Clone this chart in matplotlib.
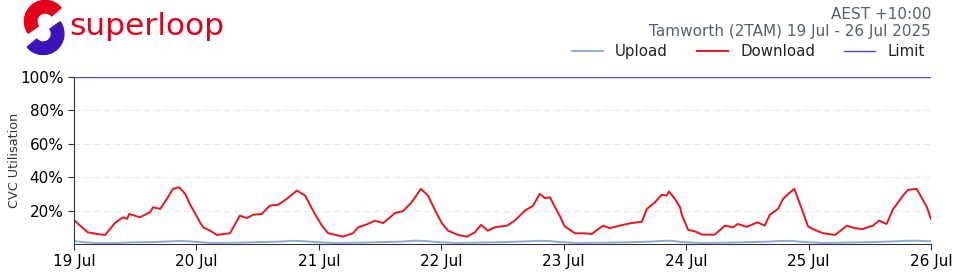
import matplotlib.pyplot as plt
import matplotlib.dates as mdates
from matplotlib.patches import Wedge
from matplotlib.ticker import FuncFormatter
import pandas as pd

# hours since 19 Jul 00:00 and CVC utilisation (%)
download_hours = [0, 1.2, 2.7, 4.5, 6.1, 8, 9.6, 10.4, 10.8, 12.9, 14.9, 15.5, 16.9, 18.2, 19.4, 20.6, 21.8, 22.7, 24.7,
                  25.3, 26.7, 28, 30.6, 32.5, 33.9, 35.1, 36.8, 38.4, 40, 41.7, 43.7, 45.3, 47.2, 48.6,
                  49.8, 51.2, 52.7, 54.7, 55.7, 57.6, 59, 60.6, 62.9, 64.5, 66.2, 68, 69.4, 70.8, 72.1, 73.3,
                  75.3, 77, 78.6, 79.8, 81.1, 82.5, 84.9, 86.4, 88.4, 90, 91.3, 92.3, 93.3, 94.3, 95.2, 96.2,
                  98.2, 100.2, 101.5, 103.7, 105, 107, 109, 111.3, 112.3, 113.9, 115.2, 116.2, 116.6, 117.8, 118.8, 119.2,
                  120.4, 121.7, 123.1, 125.6, 127.6, 129.2, 130.1, 131.9, 134, 135.4, 136.4, 138, 139, 140, 141.2, 142.3,
                  143.9, 144.8, 146.8, 149.2, 151.5, 153.1, 154.6, 156.6, 157.8, 159.3, 160.5, 162.5, 163.5, 165.2, 167.2, 168]
download = [14.3, 11, 7, 6, 5.4, 12.5, 16, 15, 18, 16, 19, 22, 21, 27, 33, 34, 30, 24, 13,
            10, 8, 5.4, 6.5, 17, 15.5, 17.5, 18, 23, 23.5, 27, 32, 29, 18, 11,
            6.5, 5.5, 4.4, 6.5, 10, 12, 14, 12.5, 18.5, 19.7, 25, 33, 29, 20, 12.5, 8,
            5.4, 4.4, 7, 11.5, 8, 10, 11, 14, 20, 23, 30, 27.5, 28, 22, 17, 10.5,
            6.4, 6.4, 6, 11, 9.5, 11, 12.4, 13.3, 21, 25, 29.5, 29, 31.5, 27, 22, 17,
            8.4, 7.6, 5.6, 5.6, 11, 10, 12, 10.3, 13, 11, 17.5, 21, 27, 30, 33, 24,
            10.5, 9, 6.5, 5.4, 11, 9.4, 9, 11, 14, 12, 20.5, 29, 32.4, 33, 22, 15]

upload_hours = [0, 1.5, 4, 8, 12, 16, 19, 21, 23,
                27, 32, 36, 40, 43, 45, 47,
                51, 56, 60, 64, 67, 69, 71,
                75, 80, 84, 88, 91, 93, 95,
                99, 104, 108, 112, 115, 117, 119,
                123, 128, 132, 136, 139, 141, 143,
                147, 152, 156, 160, 163, 165, 168]
upload = [1.8, 1.2, 0.6, 0.6, 1.0, 1.2, 1.6, 1.8, 1.5,
          0.6, 0.8, 1.1, 1.4, 1.9, 1.7, 1.2,
          0.6, 0.8, 1.1, 1.4, 2.0, 1.8, 1.2,
          0.6, 0.9, 1.1, 1.5, 1.9, 1.8, 1.2,
          0.6, 0.8, 1.0, 1.3, 1.8, 2.0, 1.2,
          0.6, 0.8, 1.1, 1.4, 1.9, 1.8, 1.2,
          0.6, 0.9, 1.1, 1.5, 1.9, 2.0, 1.6]

limit = 100
start = pd.Timestamp("2025-07-19")
end = pd.Timestamp("2025-07-26")

red = "#e8151f"
up_col = "#8aaed6"
lim_col = "#4b4bc4"
grey_txt = "#566070"

fig = plt.figure(figsize=(9.6, 2.75), dpi=100)
ax = fig.add_axes([74 / 960, 31 / 275, 857 / 960, 167 / 275])

dl_t = [start + pd.Timedelta(hours=h) for h in download_hours]
up_t = [start + pd.Timedelta(hours=h) for h in upload_hours]

ax.plot(up_t, upload, color=up_col, lw=1.4, label="Upload")
ax.plot(dl_t, download, color=red, lw=1.4, label="Download")
ax.plot([start, end], [limit, limit], color=lim_col, lw=1.0, label="Limit")

ax.set_xlim(start, end)
ax.set_ylim(0, 100)
ax.set_yticks([20, 40, 60, 80, 100])
ax.yaxis.set_major_formatter(FuncFormatter(lambda v, p: f"{v:.0f}%"))
ax.xaxis.set_major_locator(mdates.DayLocator())
ax.xaxis.set_major_formatter(mdates.DateFormatter("%d %b"))
ax.tick_params(labelsize=11, length=4, color="#333333")
ax.set_ylabel("CVC Utilisation", fontsize=9.2, color="#333333")
ax.yaxis.set_label_coords(-0.062, 0.5)

for y in [20, 40, 60, 80]:
    ax.axhline(y, color="#e2e8ef", lw=0.8, ls=(0, (5, 4)), zorder=0)

for s in ["top", "right"]:
    ax.spines[s].set_visible(False)
ax.spines["left"].set_color("#333333")
ax.spines["bottom"].set_color("#333333")

leg = fig.legend(loc="upper right", bbox_to_anchor=(0.977, 0.888), ncol=3, frameon=False,
                 fontsize=10.8, handlelength=2.1, handletextpad=0.8, columnspacing=1.9)
for t in leg.get_texts():
    t.set_color("#222222")

fig.text(0.970, 0.948, "AEST +10:00", ha="right", va="center", fontsize=11, color=grey_txt)
fig.text(0.970, 0.887, "Tamworth (2TAM) 19 Jul - 26 Jul 2025", ha="right", va="center",
         fontsize=11, color=grey_txt)

# logo
lax = fig.add_axes([0.02, 0.80, 0.052, 0.20])
lax.set_xlim(-1.2, 1.2)
lax.set_ylim(-1.3, 1.3)
lax.set_aspect("equal")
lax.axis("off")
lax.add_patch(Wedge((0.05, 0.3), 1.0, 40, 215, width=0.6, color="#e3001b"))
lax.add_patch(Wedge((-0.05, -0.3), 1.0, 220, 35, width=0.6, color="#3d12b8"))
fig.text(0.072, 0.905, "superloop", ha="left", va="center", fontsize=22.5, color="#e3001b")

fig.savefig("out.png", dpi=100)
